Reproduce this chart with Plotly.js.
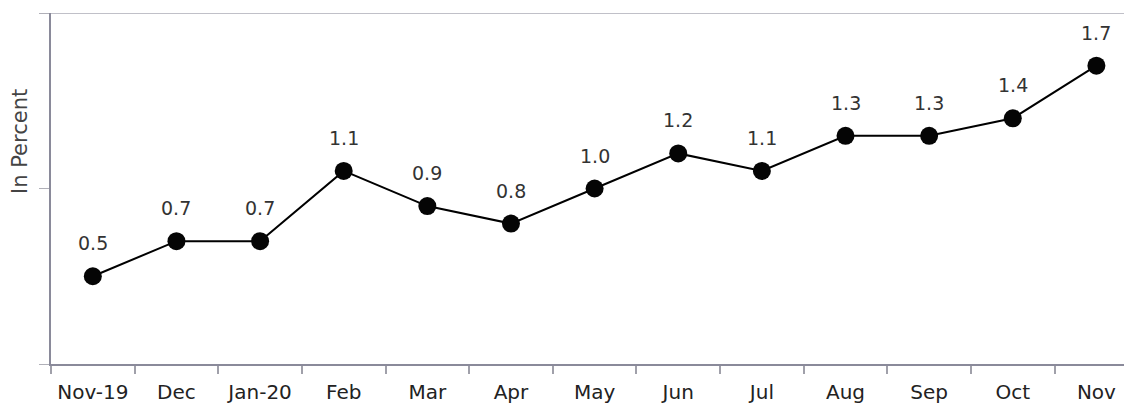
<!DOCTYPE html>
<html><head><meta charset="utf-8">
<script src="https://cdn.plot.ly/plotly-3.0.1.min.js"></script>
<style>html,body{margin:0;padding:0;background:#fff}#chart{width:1124px;height:407px}</style>
</head><body><div id="chart"></div>
<script>
const months = ["Nov-19","Dec","Jan-20","Feb","Mar","Apr","May","Jun","Jul","Aug","Sep","Oct","Nov"];
const values = [0.5,0.7,0.7,1.1,0.9,0.8,1.0,1.2,1.1,1.3,1.3,1.4,1.7];
const yTitle = "In Percent";

const trace = {
  x: months, y: values, type: "scatter", mode: "lines+markers",
  line: {color: "#000", width: 2},
  marker: {color: "#050505", size: 18},
  hoverinfo: "skip"
};
const annotations = months.map((m, i) => ({
  x: m, y: values[i], xref: "x", yref: "y", text: values[i].toFixed(1),
  showarrow: false, yshift: 33, yanchor: "middle",
  font: {family: "DejaVu Sans", size: 19, color: "#333"}
}));
annotations.push({
  xref: "paper", yref: "paper", x: -0.029, xanchor: "center", y: 0.635, yanchor: "middle",
  text: yTitle, textangle: -90,
  showarrow: false, font: {family: "DejaVu Sans", size: 21, color: "#444"}
});
const layout = {
  width: 1124, height: 407,
  margin: {l: 51, r: 0, t: 13, b: 43},
  paper_bgcolor: "#fff", plot_bgcolor: "#fff",
  showlegend: false,
  xaxis: {
    type: "category", range: [-0.5, 12.33], tickson: "boundaries",
    ticks: "outside", ticklen: 8, tickcolor: "#a0a0aa", tickwidth: 2,
    showline: true, linecolor: "#8a8a9a", linewidth: 2, showgrid: false,
    tickangle: 0, ticklabelstandoff: 9,
    tickfont: {family: "DejaVu Sans", size: 20, color: "#222"},
    fixedrange: true
  },
  yaxis: {
    range: [0, 2], tickvals: [0, 1, 2], showticklabels: false,
    ticks: "outside", ticklen: 10, tickcolor: "#b0b0b8", tickwidth: 1,
    showline: true, linecolor: "#8a8a9a", linewidth: 2, showgrid: false, zeroline: false,
    fixedrange: true
  },
  shapes: [{type: "line", xref: "paper", yref: "y", x0: 0, x1: 1, y0: 2, y1: 2,
    line: {color: "#c0c0c8", width: 2}}],
  annotations: annotations
};
Plotly.newPlot("chart", [trace], layout, {displayModeBar: false, staticPlot: true});
</script></body></html>
